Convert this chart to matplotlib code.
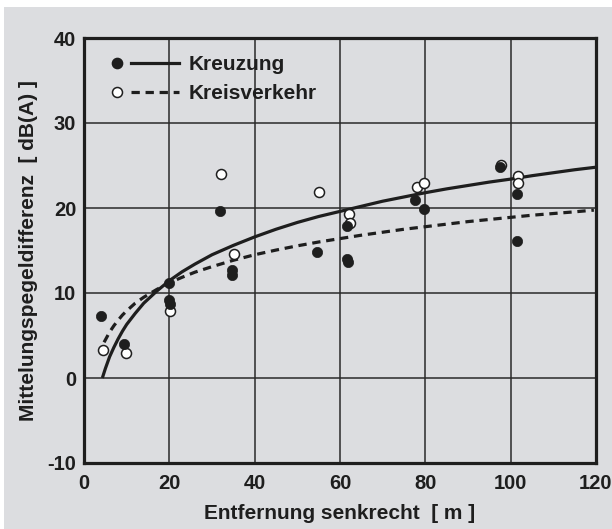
import matplotlib
matplotlib.use("Agg")
import matplotlib.pyplot as plt
from matplotlib.lines import Line2D
from matplotlib.legend_handler import HandlerBase
from matplotlib.patches import Rectangle

# ---- data ----
kreuzung_x = [4.1, 9.4, 20.0, 20.0, 20.1, 31.9, 34.8, 34.8, 54.7, 61.7, 61.7, 61.8, 77.5, 79.6, 97.5, 101.4, 101.4]
kreuzung_y = [7.3, 4.0, 11.2, 9.2, 8.7, 19.7, 12.7, 12.1, 14.8, 17.9, 14.0, 13.6, 20.9, 19.9, 24.8, 21.6, 16.1]

kreis_x = [4.5, 9.9, 20.1, 32.2, 35.1, 55.0, 62.0, 62.3, 78.0, 79.6, 97.8, 101.7, 101.7]
kreis_y = [3.3, 2.9, 7.85, 24.0, 14.6, 21.9, 19.3, 18.2, 22.5, 22.9, 25.1, 23.8, 22.9]

fit_kreuzung_x = [4.3, 5, 6, 7, 8, 9, 10, 12, 14, 17, 20, 23, 26, 30, 35, 40, 45, 50, 55, 60, 65, 70, 75,
                  80, 85, 90, 95, 100, 105, 110, 115, 120]
fit_kreuzung_y = [0.0, 1.1, 2.5, 3.6, 4.6, 5.5, 6.3, 7.6, 8.8, 10.2, 11.45, 12.5, 13.4, 14.5, 15.6, 16.6,
                  17.5, 18.3, 19.0, 19.6, 20.2, 20.8, 21.3, 21.8, 22.25, 22.65, 23.05, 23.4, 23.8, 24.15,
                  24.5, 24.8]

fit_kreis_x = [4.7, 6, 7, 8, 9, 10, 12, 14, 17, 20, 23, 26, 30, 35, 40, 45, 50, 55, 60, 65, 70, 75, 80,
               85, 90, 95, 100, 105, 110, 115, 119.5]
fit_kreis_y = [4.2, 5.4, 6.15, 6.8, 7.4, 7.9, 8.8, 9.5, 10.4, 11.2, 11.85, 12.45, 13.1, 13.85, 14.5,
               15.05, 15.55, 16.0, 16.4, 16.8, 17.15, 17.5, 17.8, 18.1, 18.4, 18.65, 18.9, 19.15, 19.35,
               19.55, 19.75]

x_ticks = [0, 20, 40, 60, 80, 100, 120]
y_ticks = [-10, 0, 10, 20, 30, 40]
xlabel = "Entfernung senkrecht  [ m ]"
ylabel = "Mittelungspegeldifferenz  [ dB(A) ]"
labels = ["Kreuzung", "Kreisverkehr"]

# ---- style ----
BG = "#dcdde0"
INK = "#1e1e1e"
plt.rcParams["font.family"] = ["Liberation Sans", "DejaVu Sans"]
plt.rcParams["font.weight"] = "bold"
plt.rcParams["axes.unicode_minus"] = False

W, H = 612, 529
fig = plt.figure(figsize=(W / 100, H / 100), dpi=100, facecolor="white")
fig.patches.append(Rectangle((4 / W, 0), 1, 1 - 7 / H, transform=fig.transFigure,
                             facecolor=BG, edgecolor="none", zorder=-10))

L, R, T, B = 84, 596, 38, 463
ax = fig.add_axes([L / W, 1 - B / H, (R - L) / W, (B - T) / H])
ax.set_facecolor(BG)

ax.set_xlim(0, 120)
ax.set_ylim(-10, 40)
ax.set_xticks(x_ticks)
ax.set_yticks(y_ticks)
ax.grid(True, color="#2a2a2a", linewidth=1.1)
ax.set_axisbelow(True)
for s in ax.spines.values():
    s.set_linewidth(2.3)
    s.set_color(INK)
ax.tick_params(axis="both", length=0, labelsize=14.5, colors=INK)
ax.tick_params(axis="x", pad=8.0)
ax.tick_params(axis="y", pad=5.5)
for lab in ax.get_xticklabels() + ax.get_yticklabels():
    lab.set_fontweight("bold")

ax.set_xlabel(xlabel, fontsize=15, fontweight="bold", color=INK)
ax.set_ylabel(ylabel, fontsize=15, fontweight="bold", color=INK)
ax.xaxis.set_label_coords(0.5, -0.097)
ax.yaxis.set_label_coords(-0.089, 0.5)

ax.plot(fit_kreuzung_x, fit_kreuzung_y, color=INK, linewidth=2.3, solid_capstyle="butt",
        solid_joinstyle="round", zorder=3)
ax.plot(fit_kreis_x, fit_kreis_y, color=INK, linewidth=2.3, dashes=(2.6, 1.8), zorder=3)

ax.plot(kreis_x, kreis_y, linestyle="none", marker="o", markersize=7.2,
        markerfacecolor="white", markeredgecolor=INK, markeredgewidth=1.1, zorder=4)
ax.plot(kreuzung_x, kreuzung_y, linestyle="none", marker="o", markersize=7.4,
        markerfacecolor=INK, markeredgecolor=INK, markeredgewidth=0.5, zorder=5)


class MarkerLineHandler(HandlerBase):
    def create_artists(self, legend, orig_handle, xdescent, ydescent, width, height, fontsize, trans):
        mk, ln = orig_handle
        y = height / 2 - ydescent
        m = Line2D([-xdescent + 0.075 * width], [y], linestyle="none")
        m.update_from(mk)
        m.set_linestyle("none")
        l = Line2D([-xdescent + 0.28 * width, -xdescent + width], [y, y])
        l.update_from(ln)
        l.set_marker("")
        m.set_transform(trans)
        l.set_transform(trans)
        return [l, m]


h1 = (Line2D([], [], linestyle="none", marker="o", markersize=7.4, markerfacecolor=INK, markeredgecolor=INK),
      Line2D([], [], color=INK, linewidth=2.3))
h2 = (Line2D([], [], linestyle="none", marker="o", markersize=7.2, markerfacecolor="white",
             markeredgecolor=INK, markeredgewidth=1.1),
      Line2D([], [], color=INK, linewidth=2.3, dashes=(2.6, 1.8)))
leg = ax.legend([h1, h2], labels, handler_map={tuple: MarkerLineHandler()},
                loc="upper left", bbox_to_anchor=((112 - L) / (R - L), (B - 55) / (B - T)),
                frameon=False, prop={"weight": "bold", "size": 15},
                handlelength=3.2, handletextpad=0.5, labelspacing=0.47, borderpad=0,
                borderaxespad=0)
for t in leg.get_texts():
    t.set_color(INK)

fig.savefig("out.png", dpi=100, facecolor=fig.get_facecolor())
